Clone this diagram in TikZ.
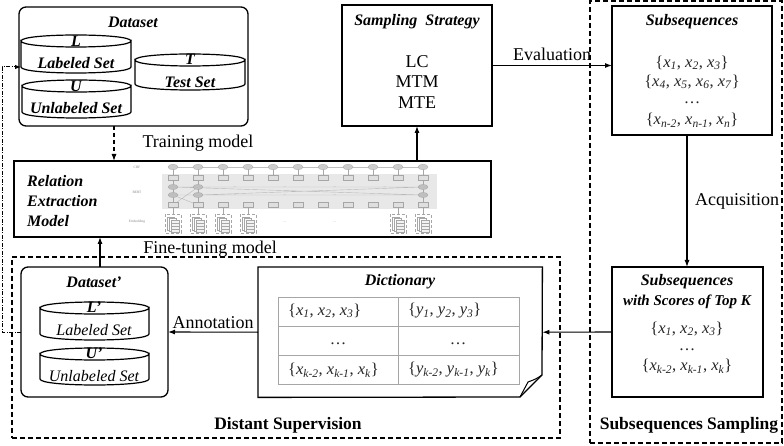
\documentclass[tikz,border=0pt]{standalone}
\usepackage{fontspec}
\setmainfont{Liberation Serif}
\usetikzlibrary{arrows.meta,calc}
\newcommand{\myx}[1]{\textit{x}\textsubscript{\textit{#1}}}
\newcommand{\myy}[1]{\textit{y}\textsubscript{\textit{#1}}}
\newcommand{\mycyl}[4]{%
  \draw[line width=1.2pt, fill=white] (#1,#3) -- (#1,#4) .. controls (#1,{#4+8}) and (#2,{#4+8}) .. (#2,#4) -- (#2,#3) .. controls (#2,{#3+8}) and (#1,{#3+8}) .. (#1,#3) -- cycle;
  \draw[line width=1.2pt] (#1,#3) .. controls (#1,{#3-8}) and (#2,{#3-8}) .. (#2,#3);
}
\begin{document}
\begin{tikzpicture}[x=1pt,y=-1pt,
  box/.style={draw, line width=1.3pt, inner sep=0pt, outer sep=0pt},
  region/.style={draw, line width=1.1pt, dash pattern=on 5pt off 3pt, inner sep=0pt, outer sep=0pt},
  ttl/.style={font=\fontsize{16}{19}\selectfont\bfseries\itshape, inner sep=0pt},
  remt/.style={font=\fontsize{16}{20}\selectfont\bfseries\itshape, inner sep=0pt, align=left},
  lab/.style={font=\fontsize{18}{21}\selectfont, inner sep=1pt},
  strat/.style={font=\fontsize{18}{20.5}\selectfont, inner sep=0pt, align=center},
  reg/.style={font=\fontsize{17.5}{20}\selectfont\bfseries, inner sep=0pt},
  settxt/.style={font=\fontsize{16.5}{19}\selectfont, text=black!85, inner sep=0pt},
  dotstxt/.style={font=\fontsize{16.5}{19}\selectfont, text=black!85, inner sep=0pt, text height=2pt, text depth=0pt, anchor=base},
  cyllab/.style={font=\fontsize{16}{19}\selectfont\itshape, inner sep=0pt},
  arr/.style={-{Latex[length=7pt,width=5pt]}, line width=1.1pt},
  tinyt/.style={font=\fontsize{3.5}{4}\selectfont, text=gray, inner sep=0pt},
  mgray/.style={draw=gray!70, line width=0.3pt},
]
\useasboundingbox (0,0) rectangle (784,446);

% ---------- regions ----------
\node[region, anchor=north west, minimum width=192pt, minimum height=442pt] (ssreg) at (590,1) {};
\node[reg] (sslab) at (689,425) {Subsequences Sampling};
\node[region, anchor=north west, minimum width=548pt, minimum height=181pt] (dsreg) at (12,257) {};
\node[reg] (dslab) at (288,425) {Distant Supervision};

% ---------- Dataset ----------
\node[box, rounded corners=7pt, anchor=north west, minimum width=229pt, minimum height=119pt] (dataset) at (19,7) {};
\node[ttl] (dstitle) at (133,22) {Dataset};
\mycyl{21}{131}{41}{67}
\node[ttl] (lL) at (76,41) {L};
\node[ttl] (lLab) at (76,63) {Labeled Set};
\mycyl{22}{131}{86}{112}
\node[ttl] (lU) at (76,86) {U};
\node[ttl] (lUnl) at (76,108) {Unlabeled Set};
\mycyl{135}{245}{60}{84}
\node[ttl] (lT) at (190,59) {T};
\node[ttl] (lTest) at (190,82) {Test Set};

% ---------- Sampling strategy ----------
\node[box, anchor=north west, minimum width=150pt, minimum height=121pt] (samp) at (342,5) {};
\node[ttl] (samptitle) at (417,22) {Sampling\ \ Strategy};
\node[strat] (samptxt) at (417,82) {LC\\MTM\\MTE};

% ---------- Subsequences ----------
\node[box, anchor=north west, minimum width=160pt, minimum height=129pt] (subseq) at (612,6) {};
\node[ttl] (subtitle) at (692,22) {Subsequences};
\node[settxt] (s1) at (692,63) {\{\myx{1}, \myx{2}, \myx{3}\}};
\node[settxt] (s2) at (692,82) {\{\myx{4}, \myx{5}, \myx{6}, \myx{7}\}};
\node[dotstxt] (s3) at (692,104) {\dots};
\node[settxt] (s4) at (692,120) {\{\myx{n-2}, \myx{n-1}, \myx{n}\}};

% ---------- Top K ----------
\node[box, anchor=north west, minimum width=151pt, minimum height=130pt] (topk) at (612,267) {};
\node[ttl] (tk1) at (687,282) {Subsequences};
\node[ttl, font=\fontsize{15}{18}\selectfont\bfseries\itshape] (tk2) at (687,302) {with Scores of Top K};
\node[settxt] (tk3) at (687,329) {\{\myx{1}, \myx{2}, \myx{3}\}};
\node[dotstxt] (tk4) at (687,350) {\dots};
\node[settxt] (tk5) at (687,366) {\{\myx{k-2}, \myx{k-1}, \myx{k}\}};

% ---------- Dictionary ----------
\node[anchor=north west, minimum width=284pt, minimum height=130pt, inner sep=0pt] (dict) at (258,267) {};
\draw[line width=1.3pt, fill=white] (dict.north west) -- (dict.north east) -- (542,375) -- (520,397) -- (dict.south west) -- cycle;
\draw[line width=1pt] (542,375) .. controls (536,379) .. (528,382) -- (520,397);
\node[ttl] (dicttitle) at (400,282) {Dictionary};
\draw[gray!70, line width=0.8pt] (278,297) rectangle (519,384) (278,326) -- (519,326) (278,355) -- (519,355) (398,297) -- (398,384);
\node[settxt, anchor=west] (d1) at (288,311) {\{\myx{1}, \myx{2}, \myx{3}\}};
\node[dotstxt] (d2) at (338,344) {\dots};
\node[settxt, anchor=west] (d3) at (288,370) {\{\myx{k-2}, \myx{k-1}, \myx{k}\}};
\node[settxt, anchor=west] (d4) at (408,311) {\{\myy{1}, \myy{2}, \myy{3}\}};
\node[dotstxt] (d5) at (458,344) {\dots};
\node[settxt, anchor=west] (d6) at (408,370) {\{\myy{k-2}, \myy{k-1}, \myy{k}\}};

% ---------- Dataset' ----------
\node[box, rounded corners=7pt, anchor=north west, minimum width=147pt, minimum height=130pt] (dsp) at (21,267) {};
\node[ttl] (dsptitle) at (94,282) {Dataset’};
\mycyl{40}{149}{308}{334}
\node[ttl] (lLp) at (94,307) {L’};
\node[cyllab] (lLabp) at (94,330) {Labeled Set};
\mycyl{40}{149}{354}{379}
\node[ttl] (lUp) at (94,353) {U’};
\node[cyllab] (lUnlp) at (94,376) {Unlabeled Set};

% ---------- Relation Extraction Model ----------
\node[box, anchor=north west, minimum width=477pt, minimum height=76pt] (rem) at (14,161) {};
\node[remt, anchor=west] (remtxt) at (27,201) {Relation\\Extraction\\Model};

% model sketch
\fill[gray!18] (162,174) rectangle (437,209);
\draw[gray!50, line width=0.4pt] (173,167) -- (423,167);
\draw[gray!55, line width=0.4pt] (173,187) -- (423,187) (173,195) -- (423,195) (173,187) -- (423,195) (198,195) -- (423,187) (173,205) -- (198,187) (198,205) -- (173,195);
\foreach \i in {0,...,10}{
  \pgfmathsetmacro\cx{173+25*\i}
  \draw[mgray] (\cx,167) -- (\cx,178);
  \draw[mgray, fill=gray!40] (\cx,167) ellipse [x radius=5, y radius=2.8];
  \draw[mgray, fill=gray!25] ({\cx-5},175.5) rectangle ({\cx+5},180.5);
  \draw[mgray, fill=gray!25] ({\cx-5},202.5) rectangle ({\cx+5},207.5);
}
\foreach \i in {0,1,10}{
  \pgfmathsetmacro\cx{173+25*\i}
  \draw[mgray] (\cx,180.5) -- (\cx,202.5);
  \draw[mgray, fill=gray!50] (\cx,187) ellipse [x radius=5, y radius=2.6];
  \draw[mgray, fill=gray!50] (\cx,195) ellipse [x radius=5, y radius=2.6];
}
\foreach \i in {0,1,2,3,9,10}{
  \pgfmathsetmacro\cx{173+25*\i}
  \draw[mgray] (\cx,207.5) -- (\cx,214);
  \draw[mgray, densely dashed] ({\cx-8},214) rectangle ({\cx+8},233);
  \draw[mgray, fill=white] ({\cx-6},217) rectangle ({\cx+1},230);
  \draw[mgray, fill=white] ({\cx-4},218.5) rectangle ({\cx+3},231);
  \draw[mgray, fill=gray!10] ({\cx-2},220) rectangle ({\cx+6},232);
  \draw[mgray] ({\cx-2},223) -- ({\cx+6},223) ({\cx-2},226) -- ({\cx+6},226) ({\cx-2},229) -- ({\cx+6},229);
}
\foreach \xx/\nm in {235/a,285/b,335/c,385/d}{
  \node[tinyt] (dta\nm) at (\xx,187) {...};
  \node[tinyt] (dtb\nm) at (\xx,195) {...};
}
\node[tinyt] (dea) at (285,222) {...};
\node[tinyt] (deb) at (335,222) {...};
\node[tinyt] (crf) at (137,167) {CRF};
\node[tinyt] (bert) at (137,192) {BERT};
\node[tinyt] (emb) at (137,222) {Embedding};

% ---------- connectors ----------
\coordinate (tx) at (114,0);
\coordinate (fx) at (100,0);
\coordinate (sx) at (417,0);
\coordinate (ax) at (687,0);
\coordinate (loopx) at (2,0);
\coordinate (lin) at (21,67);

\draw[arr, dash pattern=on 4pt off 3pt] (dataset.south -| tx) -- (rem.north -| tx);
\node[lab] (trainlab) at (198,143) {Training model};
\draw[arr] (dsp.north -| fx) -- (rem.south -| fx);
\node[lab] (finelab) at (210,249) {Fine-tuning model};
\draw[arr] (rem.north -| sx) -- (samp.south -| sx);
\draw[arr] (samp.east) -- (samp.east -| subseq.west) node[lab, midway, above=3pt] (evallab) {Evaluation};
\draw[arr] (subseq.south -| ax) -- (topk.north -| ax);
\node[lab, anchor=west] (acqlab) at (694,201) {Acquisition};
\draw[arr] (topk.west) -- (dict.east);
\draw[arr] (dict.west) -- (dsp.east) node[lab, midway, above=2pt] (annlab) {Annotation};
\draw[line width=1pt, dash pattern=on 4pt off 1.5pt on 1pt off 1.5pt, -{Latex[length=6pt,width=4.5pt]}] (dsp.west) -- (dsp.west -| loopx) |- (lin);
\end{tikzpicture}
\end{document}
